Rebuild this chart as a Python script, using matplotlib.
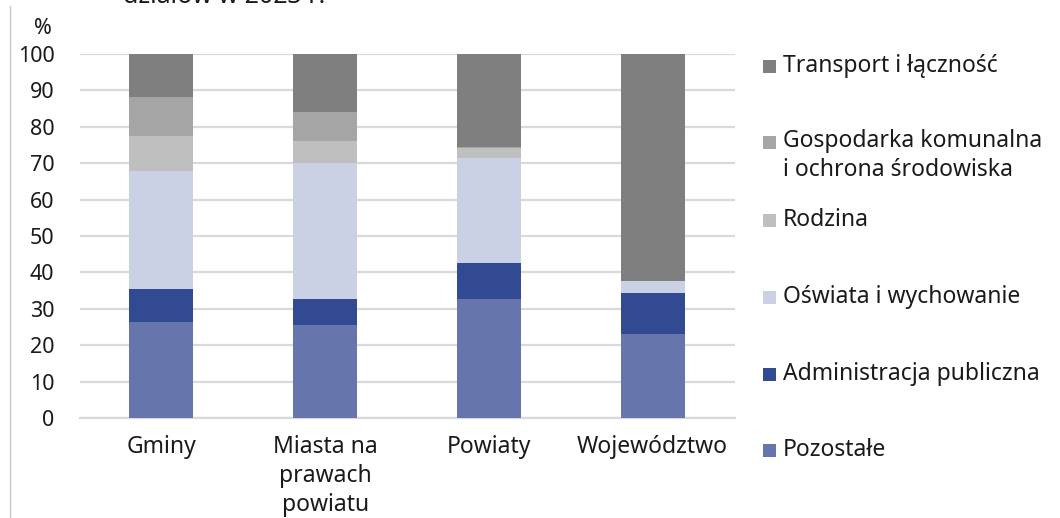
import matplotlib.pyplot as plt
import numpy as np
from matplotlib.lines import Line2D
from matplotlib.patches import Rectangle

plt.rcParams['font.family'] = ['Noto Sans', 'DejaVu Sans']

categories = ["Gminy", "Miasta na\nprawach\npowiatu", "Powiaty", "Województwo"]
series_names = ["Pozostałe", "Administracja publiczna", "Oświata i wychowanie",
                "Rodzina", "Gospodarka komunalna\ni ochrona środowiska",
                "Transport i łączność"]
pozostale = [26.5, 25.5, 32.7, 23.1]
administracja = [8.9, 7.2, 9.8, 11.1]
oswiata = [32.3, 37.3, 29.0, 3.5]
rodzina = [9.8, 6.2, 2.6, 0.0]
gospodarka = [10.6, 7.9, 0.4, 0.0]
transport = [11.9, 15.9, 25.5, 62.3]
colors = ["#6675ab", "#314a91", "#cbd1e4", "#bfbfbf", "#a5a5a5", "#7f7f7f"]

series = [pozostale, administracja, oswiata, rodzina, gospodarka, transport]
txt = "#1a1a1a"
fs = 16.5

fig = plt.figure(figsize=(10.6, 5.18), dpi=100)
ax = fig.add_axes([0.075, 0.193, 0.618, 0.703])

x = np.arange(len(categories))
bottom = np.zeros(len(categories))
for vals, col in zip(series, colors):
    ax.bar(x, vals, width=0.39, bottom=bottom, color=col, zorder=3)
    bottom += np.array(vals)

ax.set_xlim(-0.5, 3.5)
ax.set_ylim(0, 100)
ax.set_yticks(range(0, 101, 10))
ax.yaxis.grid(True, color="#d9d9d9", linewidth=1.6, zorder=0)
for s in ["top", "right", "left"]:
    ax.spines[s].set_visible(False)
ax.spines["bottom"].set_color("#d9d9d9")
ax.spines["bottom"].set_linewidth(1.6)
ax.tick_params(axis="y", length=0, pad=18, labelsize=15.5, labelcolor=txt)
ax.tick_params(axis="x", length=0, pad=12, labelsize=fs, labelcolor=txt)
ax.set_xticks(x)
ax.set_xticklabels(categories, linespacing=1.28)

fig.text(43 / 1060, 1 - 28 / 518, "%", ha="center", va="center", fontsize=15.5, color=txt)
fig.text(123 / 1060, 1 - 3 / 518, "działów w 2023 r.", ha="left", va="baseline",
         fontsize=18, fontweight="bold", color=txt)
fig.add_artist(Line2D([10 / 1060, 10 / 1060], [0, 1 - 6 / 518], color="#c8c8c8", linewidth=1))

# legend, top entry first
legend_y = [66, 143, 220, 297, 374, 450]
for name, col, yy in zip(series_names[::-1], colors[::-1], legend_y):
    fig.add_artist(Rectangle((763 / 1060, 1 - (yy + 6.5) / 518), 13 / 1060, 13 / 518,
                             facecolor=col, edgecolor="none"))
    if "\n" in name:
        fig.text(783 / 1060, 1 - (yy - 14) / 518, name, ha="left", va="top",
                 fontsize=fs, color=txt, linespacing=1.25)
    else:
        fig.text(783 / 1060, 1 - yy / 518, name, ha="left", va="center",
                 fontsize=fs, color=txt)

fig.savefig("out.png", dpi=100)
